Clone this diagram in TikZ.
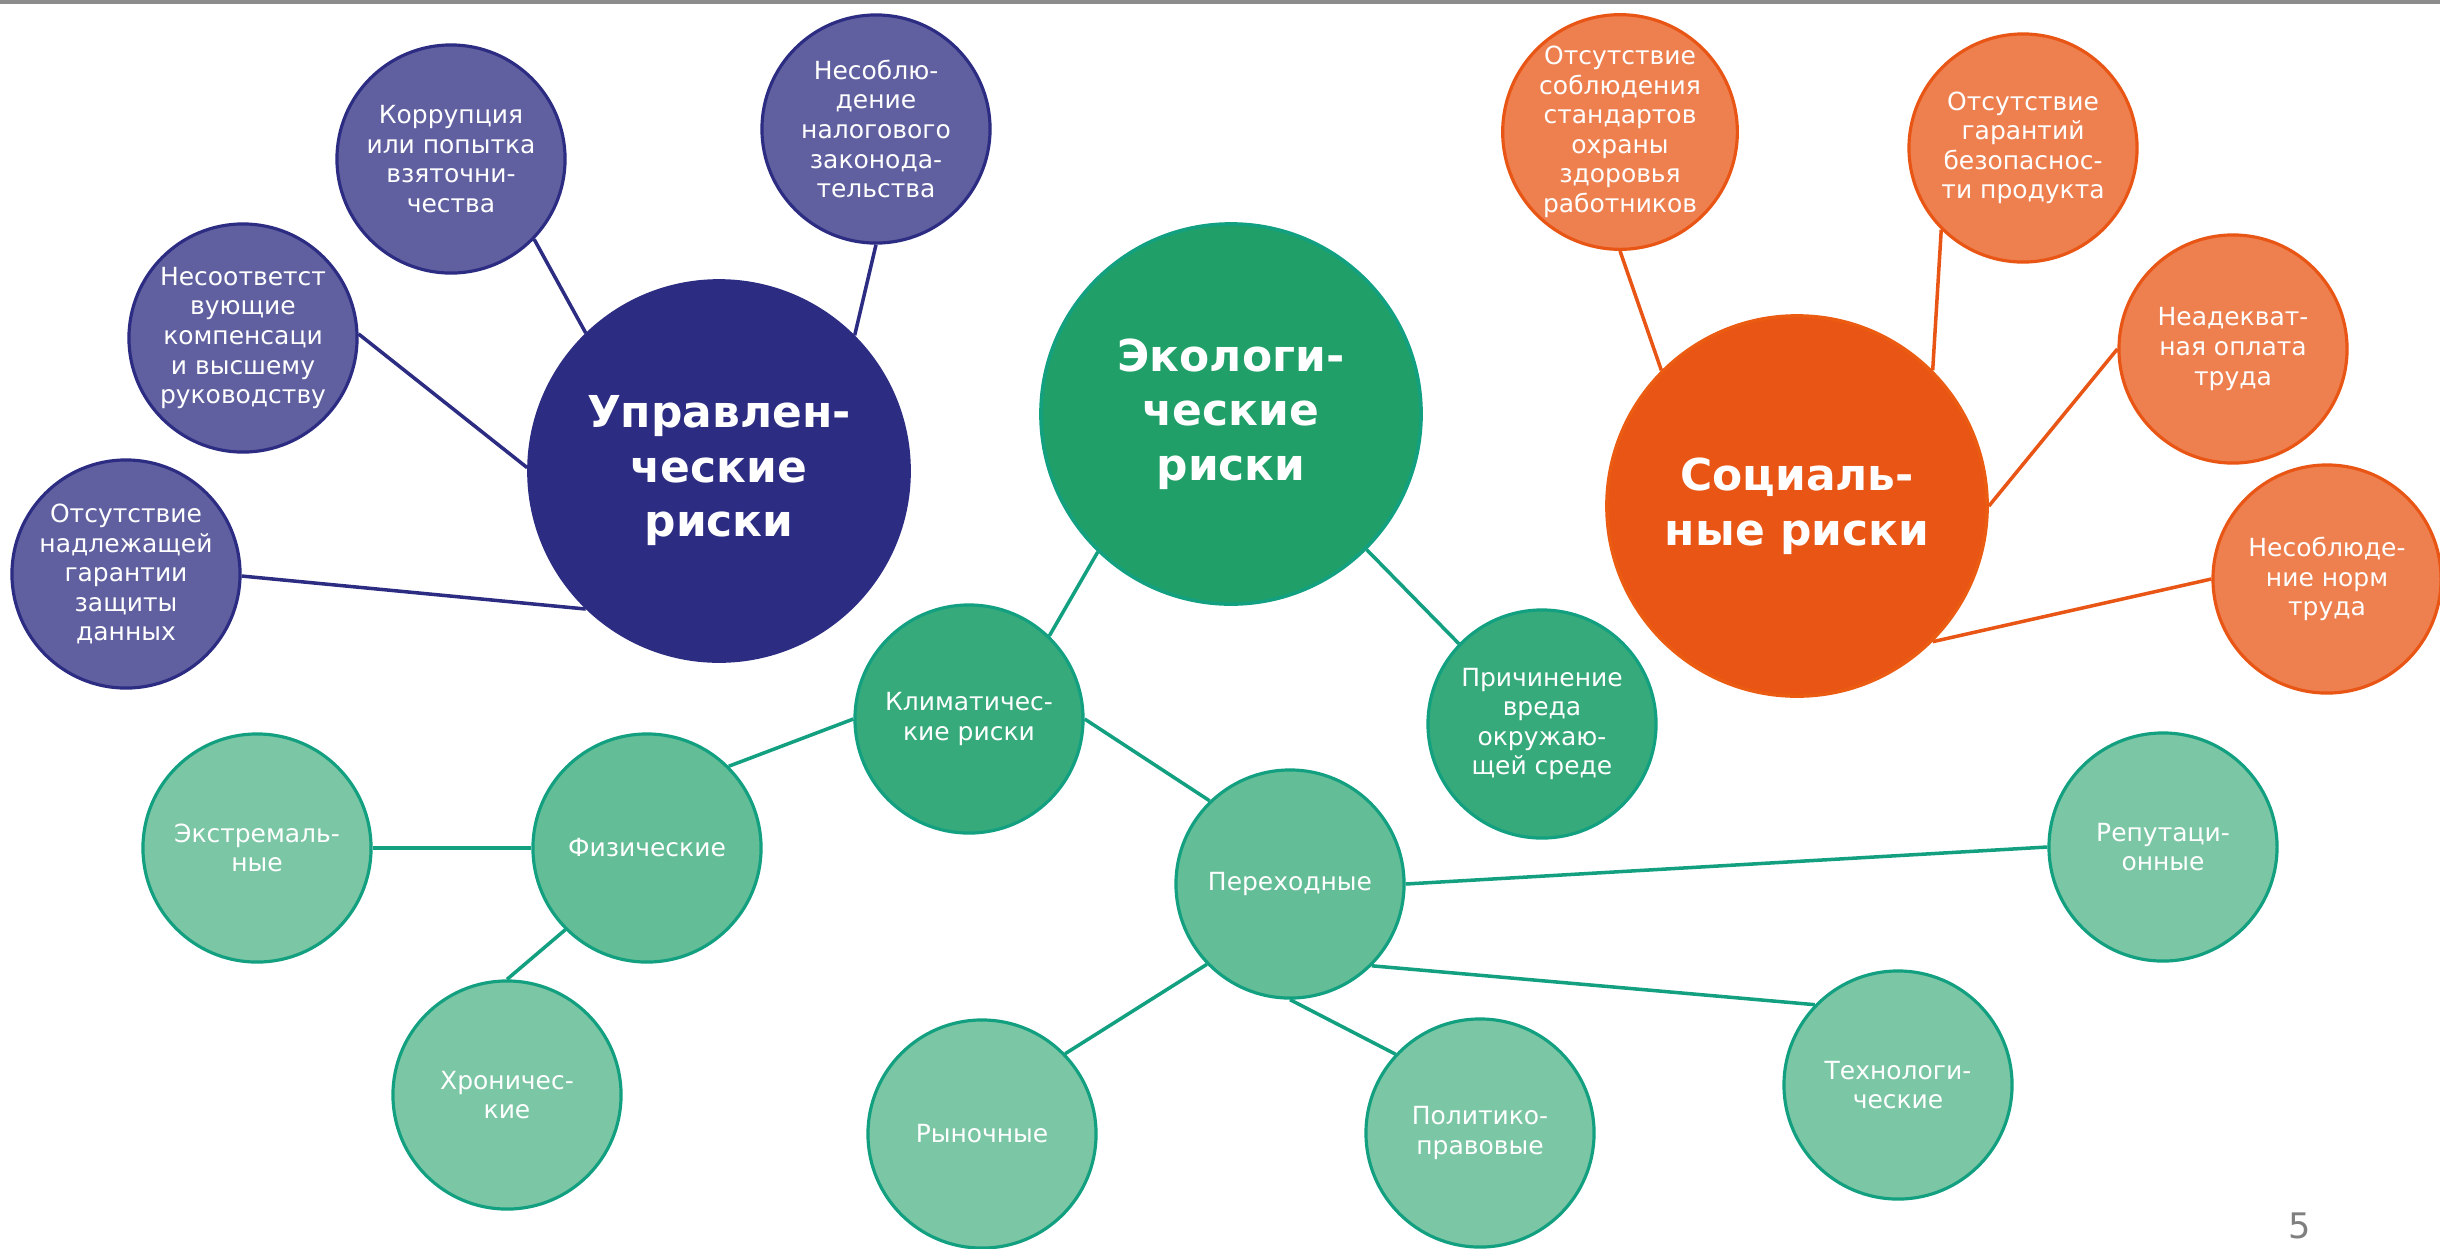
\documentclass[tikz,border=0pt]{standalone}
\usepackage{fontspec}
\setmainfont{DejaVu Sans}
\definecolor{pdark}{HTML}{2C2C83}
\definecolor{plight}{HTML}{6060A0}
\definecolor{gbig}{HTML}{20A068}
\definecolor{gmid}{HTML}{36AA7B}
\definecolor{gsoft}{HTML}{63BD96}
\definecolor{glight}{HTML}{7BC6A4}
\definecolor{gline}{HTML}{12A080}
\definecolor{obig}{HTML}{E85514}
\definecolor{olight}{HTML}{EE8050}
\definecolor{topline}{HTML}{8C8C8C}
\definecolor{pagenum}{HTML}{7F7F7F}
\begin{document}
\begin{tikzpicture}[x=0.01cm,y=-0.01cm,
  every node/.style={text=white, align=center},
  bigc/.style={circle, minimum size=3.8cm, inner sep=0pt, line width=1pt,
     font=\fontsize{12.5}{15.5}\selectfont\bfseries},
  smallc/.style={circle, minimum size=2.28cm, inner sep=0pt, line width=0.9pt,
     font=\fontsize{7.1}{8.4}\selectfont},
  pbig/.style={bigc, fill=pdark, draw=pdark},
  psmall/.style={smallc, fill=plight, draw=pdark},
  gbigs/.style={bigc, fill=gbig, draw=gline},
  gmids/.style={smallc, fill=gmid, draw=gline},
  gsofts/.style={smallc, fill=gsoft, draw=gline},
  glights/.style={smallc, fill=glight, draw=gline},
  obigs/.style={bigc, fill=obig, draw=obig!85!orange},
  osmall/.style={smallc, fill=olight, draw=obig},
  pline/.style={draw=pdark, line width=1pt},
  gcon/.style={draw=gline, line width=1pt},
  ocon/.style={draw=obig, line width=1pt}
]
\useasboundingbox (0,0) rectangle (2440,1248);
\fill[white] (0,0) rectangle (2440,1248);
\coordinate (tl) at (0,2);
\coordinate (tr) at (2440,2);
\draw[topline, line width=1.1pt] (tl) -- (tr);

% management
\node[pbig] (upr) at (719,471) {Управлен-\\ческие\\риски};
\node[psmall] (kor) at (451,159) {Коррупция\\или попытка\\взяточни-\\чества};
\node[psmall] (nal) at (876,129) {Несоблю-\\дение\\налогового\\законода-\\тельства};
\node[psmall] (komp) at (243,338) {Несоответст\\вующие\\компенсаци\\и высшему\\руководству};
\node[psmall] (zash) at (126,574) {Отсутствие\\надлежащей\\гарантии\\защиты\\данных};

% ecology
\node[gbigs] (eco) at (1231,414) {Экологи-\\ческие\\риски};
\node[gmids] (klim) at (969,719) {Климатичес-\\кие риски};
\node[gmids] (vred) at (1542,724) {Причинение\\вреда\\окружаю-\\щей среде};
\node[gsofts] (fiz) at (647,848) {Физические};
\node[glights] (extr) at (257,848) {Экстремаль-\\ные};
\node[glights] (xron) at (507,1095) {Хроничес-\\кие};
\node[gsofts] (perex) at (1290,884) {Переходные};
\node[glights] (rep) at (2163,847) {Репутаци-\\онные};
\node[glights] (ryn) at (982,1134) {Рыночные};
\node[glights] (pol) at (1480,1133) {Политико-\\правовые};
\node[glights] (tex) at (1898,1085) {Технологи-\\ческие};

% social
\node[obigs] (soc) at (1797,506) {Социаль-\\ные риски};
\node[osmall] (ohr) at (1620,132) {Отсутствие\\соблюдения\\стандартов\\охраны\\здоровья\\работников};
\node[osmall] (bez) at (2023,148) {Отсутствие\\гарантий\\безопаснос-\\ти продукта};
\node[osmall] (opl) at (2233,349) {Неадекват-\\ная оплата\\труда};
\node[osmall] (norm) at (2327,579) {Несоблюде-\\ние норм\\труда};

% connectors
\draw[pline] (upr.134) -- (kor.-44);
\draw[pline] (upr.45) -- (nal.-90);
\draw[pline] (upr.179) -- (komp.2);
\draw[pline] (upr.226) -- (zash.-1);

\draw[gcon] (eco.226) -- (klim.46);
\draw[gcon] (eco.-45) -- (vred.136);
\draw[gcon] (klim.180) -- (fiz.45);
\draw[gcon] (klim.0) -- (perex.134);
\draw[gcon] (fiz.180) -- (extr.0);
\draw[gcon] (fiz.225) -- (xron.90);
\draw[gcon] (perex.0) -- (rep.180);
\draw[gcon] (perex.-45) -- (tex.136);
\draw[gcon] (perex.224) -- (ryn.44);
\draw[gcon] (perex.-90) -- (pol.137);

\draw[ocon] (soc.135) -- (ohr.-90);
\draw[ocon] (soc.45) -- (bez.225);
\draw[ocon] (soc.0) -- (opl.180);
\draw[ocon] (soc.-45) -- (norm.180);

\node[text=pagenum, font=\fontsize{10}{12}\selectfont] (pg) at (2300,1226) {5};
\end{tikzpicture}
\end{document}
